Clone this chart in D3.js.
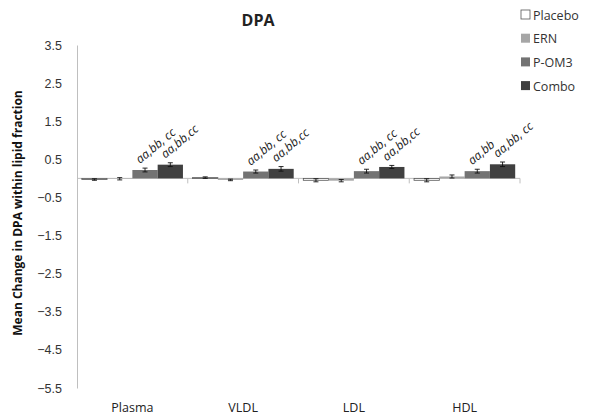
<!DOCTYPE html>
<html><head><meta charset="utf-8">
<script src="https://cdn.jsdelivr.net/npm/d3@7"></script>
<style>body{margin:0;background:#fff}svg{font-family:"Open Sans",sans-serif}</style>
</head><body><svg id="c" width="600" height="420"></svg>
<script>
const categories = ["Plasma","VLDL","LDL","HDL"];
const seriesNames = ["Placebo","ERN","P-OM3","Combo"];
const placebo = [-0.03, 0.02, -0.05, -0.05];
const ern = [-0.01, -0.04, -0.06, 0.05];
const pom3 = [0.22, 0.18, 0.19, 0.19];
const combo = [0.36, 0.25, 0.30, 0.37];
const placeboErr = [0.02, 0.02, 0.04, 0.04];
const ernErr = [0.03, 0.02, 0.03, 0.04];
const pom3Err = [0.05, 0.04, 0.05, 0.05];
const comboErr = [0.05, 0.06, 0.04, 0.06];
const pom3Labels = ["aa,bb, cc","aa,bb, cc","aa,bb, cc","aa,bb"];
const comboLabels = ["aa,bb,cc","aa,bb,cc","aa,bb,cc","aa,bb, cc"];
const yTicks = [3.5,2.5,1.5,0.5,-0.5,-1.5,-2.5,-3.5,-4.5,-5.5];
const colors = ["#ffffff","#a6a6a6","#737373","#404040"];

const values = [placebo, ern, pom3, combo];
const errs = [placeboErr, ernErr, pom3Err, comboErr];
const labels = [null, null, pom3Labels, comboLabels];

const svg = d3.select("#c");
const x0 = 77, x1 = 520, yTop = 45, yBot = 388;
const y = d3.scaleLinear().domain([-5.5, 3.5]).range([yBot, yTop]);
const x = d3.scaleBand().domain(categories).range([x0, x1]).paddingInner(0).paddingOuter(0);
const xs = d3.scaleBand().domain(d3.range(4)).range([0, x.bandwidth()]).paddingOuter(0.19).paddingInner(0);

// y axis
const yAxis = d3.axisLeft(y).tickValues(yTicks).tickSize(0).tickPadding(15).tickFormat(d3.format(".1f"));
const ya = svg.append("g").attr("transform", `translate(${x0},0)`).call(yAxis);
ya.select(".domain").attr("stroke", "#bfbfbf");
ya.selectAll("text").attr("font-size", 12.5).attr("fill", "#333");

// x axis at zero
const xAxisG = svg.append("g").attr("transform", `translate(0,${y(0)})`);
xAxisG.append("line").attr("x1", x0).attr("x2", x1).attr("stroke", "#bfbfbf");
const bounds = categories.map(c => x(c)).concat([x1]);
xAxisG.selectAll("line.t").data(bounds.slice(1)).enter().append("line")
  .attr("x1", d => d).attr("x2", d => d).attr("y1", 0).attr("y2", 5).attr("stroke", "#bfbfbf");

// category labels
svg.append("g").selectAll("text").data(categories).enter().append("text")
  .attr("x", d => x(d) + x.bandwidth() / 2).attr("y", 412)
  .attr("text-anchor", "middle").attr("font-size", 12.5).attr("fill", "#222").text(d => d);

// bars
values.forEach((vals, s) => {
  const g = svg.append("g");
  g.selectAll("rect").data(vals).enter().append("rect")
    .attr("x", (d, i) => x(categories[i]) + xs(s))
    .attr("width", xs.bandwidth())
    .attr("y", d => y(Math.max(0, d)))
    .attr("height", d => Math.abs(y(d) - y(0)))
    .attr("fill", colors[s])
    .attr("stroke", s === 0 ? "#555" : "none").attr("stroke-width", 0.8);
  const eg = svg.append("g").attr("stroke", "#111").attr("stroke-width", 0.9);
  vals.forEach((d, i) => {
    const cx = x(categories[i]) + xs(s) + xs.bandwidth() / 2;
    const e = errs[s][i];
    eg.append("line").attr("x1", cx).attr("x2", cx).attr("y1", y(d + e)).attr("y2", y(d - e));
    eg.append("line").attr("x1", cx - 2.5).attr("x2", cx + 2.5).attr("y1", y(d + e)).attr("y2", y(d + e));
    eg.append("line").attr("x1", cx - 2.5).attr("x2", cx + 2.5).attr("y1", y(d - e)).attr("y2", y(d - e));
  });
  if (labels[s]) {
    svg.append("g").selectAll("text").data(vals).enter().append("text")
      .attr("transform", (d, i) => {
        const cx = x(categories[i]) + xs(s) + xs.bandwidth() / 2 - 5;
        return `translate(${cx},${y(d + errs[s][i]) - 4}) rotate(-40)`;
      })
      .attr("font-size", 12).attr("font-style", "italic").attr("fill", "#222")
      .text((d, i) => labels[s][i]);
  }
});

// title
svg.append("text").attr("x", 258).attr("y", 26).attr("text-anchor", "middle")
  .attr("font-size", 16).attr("font-weight", "bold").attr("fill", "#222").text("DPA");

// y title
svg.append("text").attr("transform", "translate(22,213) rotate(-90)")
  .attr("text-anchor", "middle").attr("font-size", 12).attr("font-weight", "bold").attr("fill", "#111")
  .text("Mean Change in DPA within lipid fraction");

// legend
const lg = svg.append("g");
seriesNames.forEach((n, i) => {
  const ly = 15 + i * 23.7;
  lg.append("rect").attr("x", 521).attr("y", ly - 5).attr("width", 9).attr("height", 9)
    .attr("fill", colors[i]).attr("stroke", i === 0 ? "#555" : "none").attr("stroke-width", 0.8);
  lg.append("text").attr("x", 533).attr("y", ly + 4.5).attr("font-size", 12.5).attr("fill", "#333").text(n);
});
</script></body></html>
